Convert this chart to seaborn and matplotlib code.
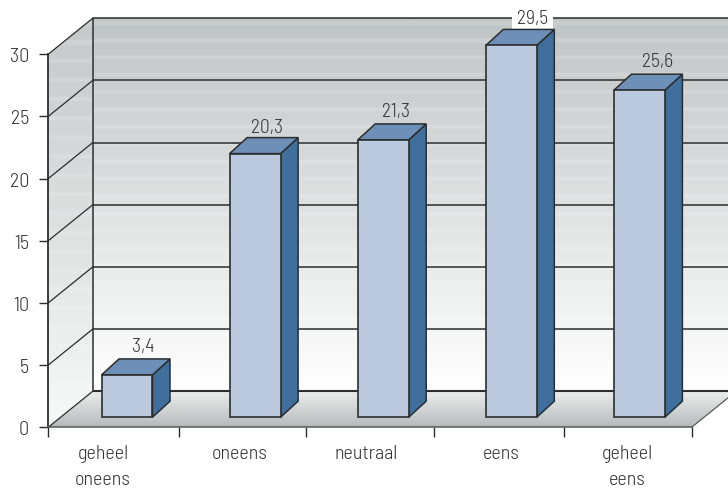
import numpy as np
import pandas as pd
import matplotlib
matplotlib.use("Agg")
import matplotlib.pyplot as plt
from matplotlib.patches import Polygon
import seaborn as sns

categories = ["geheel\noneens", "oneens", "neutraal", "eens", "geheel\neens"]
bar_heights = [3.4, 21.2, 22.3, 29.9, 26.3]
bar_labels = ["3,4", "20,3", "21,3", "29,5", "25,6"]
y_ticks = [0, 5, 10, 15, 20, 25, 30]

sns.set_style("white")
plt.rcParams["font.family"] = ["Barlow Semi Condensed", "Barlow Condensed", "DejaVu Sans"]
plt.rcParams["font.weight"] = 300
TEXT = "#333333"
LINE = "#2b2e2e"
FS = 14.5

W, H = 728, 489
fig = plt.figure(figsize=(W / 100, H / 100), dpi=100)
ax = fig.add_axes([48.3 / W, (H - 428.2) / H, 643.4 / W, 373 / H])
ax.patch.set_visible(False)

df = pd.DataFrame({"cat": categories, "v": bar_heights})
sns.barplot(data=df, x="cat", y="v", width=0.398, color="#bccadf", saturation=1,
            edgecolor=LINE, linewidth=1.2, ax=ax, zorder=5)
bars = list(ax.patches)

PX_X = 128.1                     # pixels per category
PX_Y = 373 / 30                  # pixels per unit
x0 = -(112.8 - 48.3) / PX_X
x1 = x0 + 643.4 / PX_X
ax.set_xlim(x0, x1)
ax.set_ylim(0, 30)

dx = lambda px: px / PX_X
dy = lambda px: px / PX_Y
WX, WY = dx(44.5), dy(36)        # depth of walls
BX0, BY0 = dx(14.2), dy(10)      # bar front offset from floor edge
BX, BY = dx(17.5), dy(16)        # bar depth
label_nudge_x = [1, -3, -2, 6, 3]
label_nudge_y = [13, 11, 13, 11, 13]


def grad(c0, c1, n=300, stripes=0.0):
    t = np.linspace(0, 1, n)[:, None]
    c0, c1 = np.array(matplotlib.colors.to_rgb(c0)), np.array(matplotlib.colors.to_rgb(c1))
    img = c0 * (1 - t) + c1 * t
    if stripes:
        px = np.arange(n) * (373 + 36) / n
        img = img + stripes * (np.sin(px * 2 * np.pi / 19) > 0.75)[:, None] * (1 - t) * 1.6
    return np.clip(img, 0, 1)[:, None, :]


def filled(points, img, extent, z):
    poly = Polygon(points, closed=True, fc="none", ec="none", transform=ax.transData, clip_on=False)
    ax.add_patch(poly)
    im = ax.imshow(img, extent=extent, aspect="auto", origin="upper", zorder=z,
                   interpolation="bilinear")
    im.set_clip_box(fig.bbox)
    im.set_clip_path(poly)
    return im


rx = x1 + WX
# back wall, side wall, floor
filled([(x0 + WX, WY), (rx, WY), (rx, 30 + WY), (x0 + WX, 30 + WY)],
       grad("#bfc4c4", "#ffffff", stripes=0.022), (x0 + WX, rx, WY, 30 + WY), 0.5)
filled([(x0, 0), (x0 + WX, WY), (x0 + WX, 30 + WY), (x0, 30)],
       grad("#c4c8c8", "#f8f9f9", stripes=0.02), (x0, x0 + WX, 0, 30 + WY), 0.6)
filled([(x0, 0), (x1, 0), (rx, WY), (x0 + WX, WY)],
       grad("#eef0f0", "#b6baba", n=60), (x0, rx, 0, WY), 0.7)
ax.set_xlim(x0, x1)
ax.set_ylim(0, 30)

# wall grid lines
for v in y_ticks:
    lw = 1.5 if v == 0 else 1.1
    ax.plot([x0 + WX, rx], [v + WY, v + WY], color=LINE, lw=lw, clip_on=False, zorder=1,
            solid_capstyle="butt")
    if v > 0:
        ax.plot([x0, x0 + WX], [v, v + WY], color=LINE, lw=0.9, clip_on=False, zorder=1)
ax.plot([x0, x0 + WX], [0, WY], color=LINE, lw=0.9, clip_on=False, zorder=1)
ax.plot([x0 + WX, x0 + WX], [WY, 30 + WY], color=LINE, lw=1.1, clip_on=False, zorder=1)
ax.plot([x1, rx], [0, WY], color="#555a5a", lw=0.9, clip_on=False, zorder=1)

# 3D bar sides and tops
for i, p in enumerate(bars):
    p.set_x(p.get_x() + BX0)
    p.set_y(BY0)
    l, r = p.get_x(), p.get_x() + p.get_width()
    b, t = BY0, BY0 + p.get_height()
    ax.add_patch(Polygon([(r, b), (r + BX, b + BY), (r + BX, t + BY), (r, t)], closed=True,
                         fc="#406f9c", ec=LINE, lw=1.1, clip_on=False, zorder=4))
    ax.add_patch(Polygon([(l, t), (r, t), (r + BX, t + BY), (l + BX, t + BY)], closed=True,
                         fc="#6e8fb8", ec=LINE, lw=1.1, clip_on=False, zorder=4))
    p.set_clip_on(False)
    bbox = dict(fc="white", ec="none", pad=3.5) if i == 3 else None
    ax.annotate(bar_labels[i], xy=((l + r) / 2 + BX * 0.85, t + BY),
                xytext=(label_nudge_x[i] * 0.72, label_nudge_y[i] * 0.72),
                textcoords="offset points", ha="center", va="center", fontsize=FS - 0.4,
                color=TEXT, annotation_clip=False, zorder=3, bbox=bbox)

# axes
for s in ["top", "right"]:
    ax.spines[s].set_visible(False)
ax.spines["left"].set(color=LINE, linewidth=1.3, zorder=2)
ax.spines["bottom"].set(color="#555a5a", linewidth=1.1, zorder=2)
ax.set_xlabel("")
ax.set_ylabel("")
ax.set_yticks(y_ticks)
ax.tick_params(axis="y", length=6.8, width=1, color=LINE, pad=7, labelsize=FS, labelcolor=TEXT,
               left=True)

label_pos = [-0.077, 0.993, 1.977, 3.03, 4.014]
tick_edges = [x0, 0.517, 1.51, 2.51, 3.52, x1]
ax.set_xticks(label_pos)
ax.set_xticklabels(categories, linespacing=1.6)
ax.set_xticks(tick_edges, minor=True)
ax.tick_params(axis="x", which="major", length=0, pad=12, labelsize=FS, labelcolor=TEXT, bottom=True)
ax.tick_params(axis="x", which="minor", length=7, width=1, color=LINE, bottom=True)

fig.savefig("out.png", dpi=100)
